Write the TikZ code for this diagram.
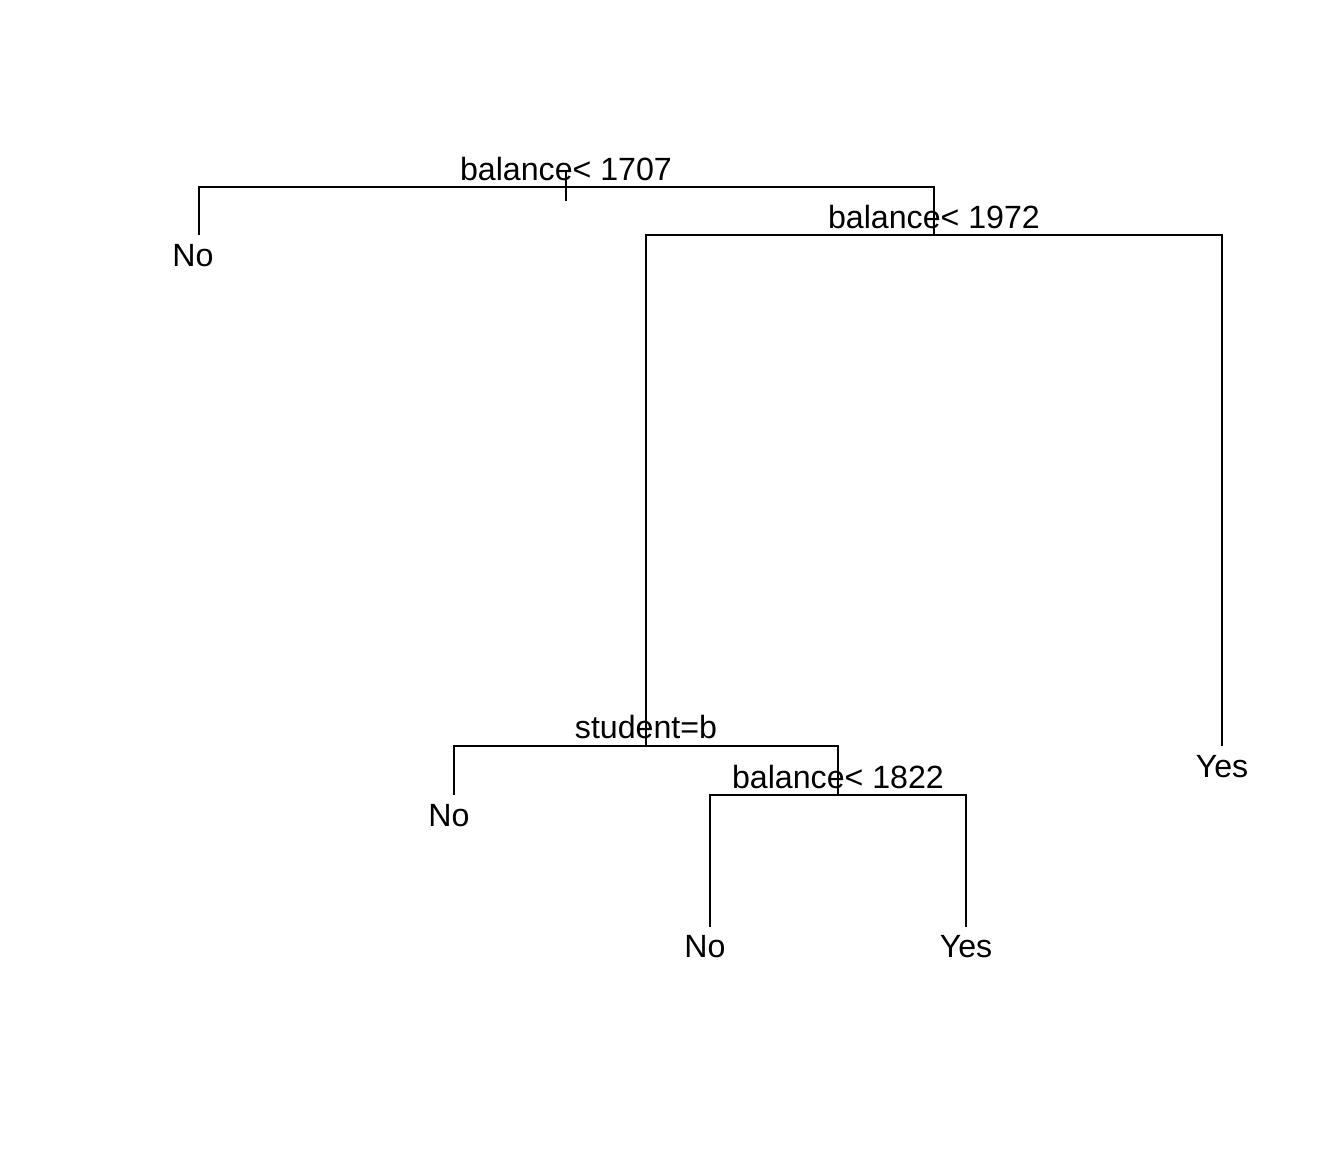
\documentclass[tikz,border=0pt]{standalone}
\usepackage{fontspec}
\setmainfont{Liberation Sans}
\usepackage{tikz}
\usetikzlibrary{positioning}

\begin{document}
\begin{tikzpicture}[
  x=0.02cm,y=-0.02cm,
  line width=1.1pt,
  splitlab/.style={anchor=base,inner sep=0pt,font=\fontsize{18.3}{20}\selectfont},
  leaflab/.style={anchor=base,inner sep=0pt,font=\fontsize{18.3}{20}\selectfont}
]
\useasboundingbox (0,0) rectangle (1344,1152);

% split points
\coordinate (n1) at (566,187);
\coordinate (n2) at (934,235);
\coordinate (n3) at (646,746);
\coordinate (n4) at (838,795);
% leaf ends
\coordinate (l1) at (199,235);
\coordinate (l2) at (454,795);
\coordinate (l4) at (1222,746);
\coordinate (l5) at (710,927);
\coordinate (l6) at (966,927);

% root tick
\coordinate (t1) at (566,172);
\coordinate (t2) at (566,201);
\draw (t1) -- (t2);

\draw (l1) -- (l1 |- n1) -- (n2 |- n1) -- (n2);
\draw (n3) -- (n3 |- n2) -- (l4 |- n2) -- (l4);
\draw (l2) -- (l2 |- n3) -- (n4 |- n3) -- (n4);
\draw (l5) -- (l5 |- n4) -- (l6 |- n4) -- (l6);

\node[splitlab] (s1) at (566,180) {balance< 1707};
\node[splitlab] (s2) at (934,228) {balance< 1972};
\node[splitlab] (s3) at (646,738) {student=b};
\node[splitlab] (s4) at (838,788) {balance< 1822};

\node[leaflab] (no1) at (193,266) {No};
\node[leaflab] (yes1) at (1222,777) {Yes};
\node[leaflab] (no2) at (449,826) {No};
\node[leaflab] (no3) at (705,957) {No};
\node[leaflab] (yes2) at (966,957) {Yes};
\end{tikzpicture}
\end{document}
